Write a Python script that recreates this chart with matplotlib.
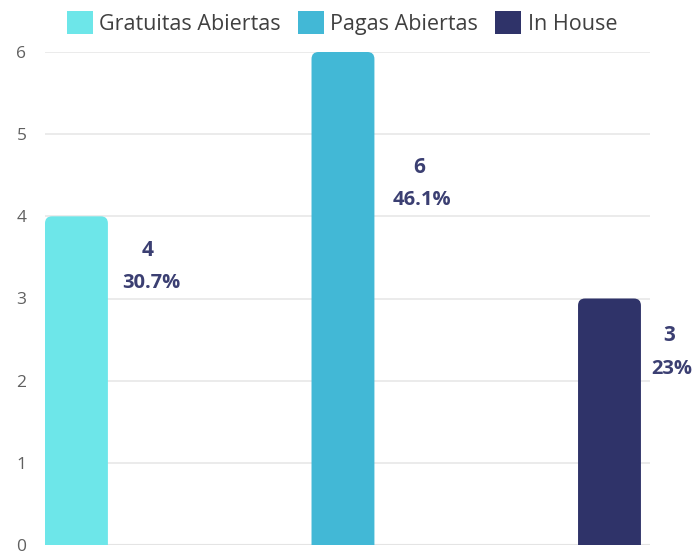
import matplotlib
matplotlib.use("Agg")
import matplotlib.pyplot as plt
from matplotlib.patches import FancyBboxPatch, Patch

plt.rcParams['font.family'] = ['Open Sans', 'DejaVu Sans']

# data
series = ["Gratuitas Abiertas", "Pagas Abiertas", "In House"]
values = [4, 6, 3]
pcts = ["30.7%", "46.1%", "23%"]
colors = ["#6de6e9", "#42b8d6", "#2f3369"]
# label placement (px): drop below bar top, shift right of bar edge
label_drop = [34, 115, 37]
label_dx = [40, 45, 28]

fig = plt.figure(figsize=(6.99, 5.54), dpi=100)
ax = fig.add_axes([45/699, 9/554, 605/699, 493/554])

w = 0.236
ax.set_xlim(-w/2, 2 + w/2 + 0.034)
ax.set_ylim(0, 6)

# aspect for rounded corners (px per x unit / px per y unit)
xpx = 605 / (2 + w + 0.034)
ypx = 493 / 6
aspect = xpx / ypx
r = 7 / xpx

for i, v in enumerate(values):
    p = FancyBboxPatch((i - w/2, -0.5), w, v + 0.5,
                       boxstyle="round,pad=0,rounding_size=%f" % r,
                       mutation_aspect=aspect, fc=colors[i], ec="none",
                       zorder=3, clip_on=True)
    ax.add_patch(p)
    ax.annotate(str(v), (i + w/2, v), xytext=(label_dx[i]*0.72, -label_drop[i]*0.72),
                textcoords="offset points", ha="center", va="center",
                fontsize=15, fontweight="bold", color="#3b3f72",
                annotation_clip=False)
    ax.annotate(pcts[i], (i + w/2, v), xytext=((label_dx[i]+3)*0.72, -(label_drop[i]+33)*0.72),
                textcoords="offset points", ha="center", va="center",
                fontsize=14.5, fontweight="bold", color="#3b3f72",
                annotation_clip=False)

ax.set_yticks(range(0, 7))
ax.grid(axis="y", color="#e8e8e8", lw=1.2, zorder=0)
ax.axhline(0, color="#d6d6d6", lw=1.5, zorder=1)
ax.set_xticks([])
for s in ax.spines.values():
    s.set_visible(False)
ax.tick_params(axis="y", length=0, pad=17, labelsize=12.5, labelcolor="#606060")
for t in ax.get_yticklabels():
    t.set_ha("center")

handles = [Patch(fc=c, ec="none") for c in colors]
fig.legend(handles, series, loc="center", bbox_to_anchor=(342/699, 1 - 23/554),
           ncol=3, frameon=False, fontsize=15.5, handlelength=1.2, handleheight=1.3,
           handletextpad=0.3, columnspacing=0.8, labelcolor="#404040")

fig.savefig("out.png", dpi=100)
